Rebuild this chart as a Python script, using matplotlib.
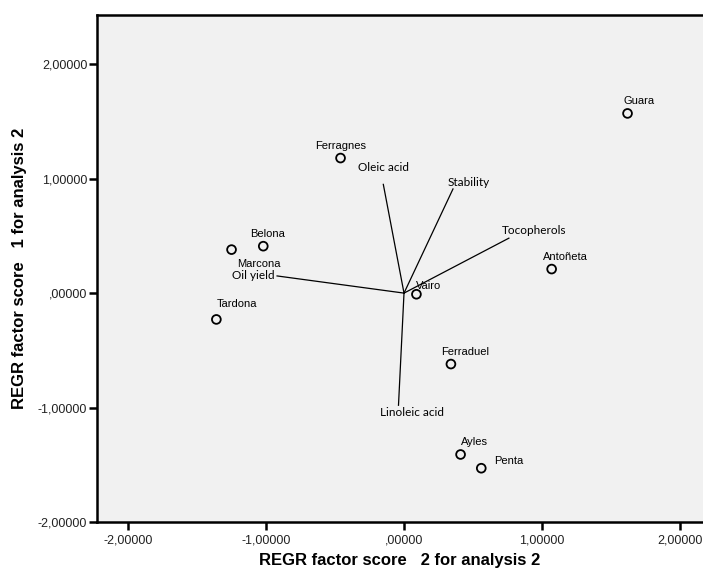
import numpy as np
import matplotlib.pyplot as plt

# cultivar scores (factor 2 on x, factor 1 on y)
cultivars = ['Guara', 'Ferragnes', 'Belona', 'Marcona', 'Tardona', 'Vairo',
             'Antoñeta', 'Ferraduel', 'Ayles', 'Penta']
score2 = [1.62, -0.46, -1.02, -1.25, -1.36, 0.09, 1.07, 0.34, 0.41, 0.56]
score1 = [1.57, 1.18, 0.41, 0.38, -0.23, -0.01, 0.21, -0.62, -1.41, -1.53]
# label offsets in points (dx, dy, ha)
lab_off = [(-3, 9, 'left'), (0, 9, 'center'), (3, 9, 'center'), (20, -10, 'center'),
           (15, 11, 'center'), (0, 6, 'left'), (10, 9, 'center'), (10, 9, 'center'),
           (10, 9, 'center'), (9, 5, 'left')]

# variable loadings
variables = ['Oil yield', 'Oleic acid', 'Stability', 'Tocopherols', 'Linoleic acid']
load2 = [-0.92, -0.15, 0.355, 0.76, -0.04]
load1 = [0.15, 0.95, 0.91, 0.48, -0.98]
var_lab = [(-1.09, 0.15), (-0.15, 1.1), (0.47, 0.97), (0.94, 0.55), (0.06, -1.04)]

fig = plt.figure(figsize=(7.03, 5.72), dpi=100)
ax = fig.add_axes([0.138, 0.0874, 0.862, 0.8864])
ax.set_facecolor('#f1f1f1')

for x, y in zip(load2, load1):
    ax.plot([0, x], [0, y], color='black', lw=0.9)
for name, (tx, ty) in zip(variables, var_lab):
    ax.text(tx, ty, name, fontsize=8.5, family='Lato', ha='center', va='center')

ax.scatter(score2, score1, s=40, facecolors='none', edgecolors='black', linewidths=1.3, zorder=3)
for name, x, y, (dx, dy, ha) in zip(cultivars, score2, score1, lab_off):
    ax.annotate(name, (x, y), xytext=(dx, dy), textcoords='offset points',
                ha=ha, va='center', fontsize=8, family='Liberation Sans')

ax.set_xlim(-2.225, 2.167)
ax.set_ylim(-2.0, 2.43)
ticks = [-2, -1, 0, 1, 2]
ax.set_xticks(ticks)
ax.set_yticks(ticks)
fmt = lambda v: ',00000' if v == 0 else f'{v:.5f}'.replace('.', ',')
ax.set_xticklabels([fmt(v) for v in ticks], family='Liberation Sans', fontsize=9)
ax.set_yticklabels([fmt(v) for v in ticks], family='Liberation Sans', fontsize=9)
ax.tick_params(direction='out', length=6, width=1.8, color='black', labelcolor='#222222')
ax.tick_params(axis='y', pad=1)
ax.tick_params(axis='x', pad=3)
for s in ['left', 'bottom', 'top']:
    ax.spines[s].set_linewidth(1.8)
ax.spines['right'].set_visible(False)

ax.set_xlabel('REGR factor score   2 for analysis 2', fontsize=12, fontweight='bold',
              family='Liberation Sans', labelpad=5)
ax.set_ylabel('REGR factor score   1 for analysis 2', fontsize=12, fontweight='bold',
              family='Liberation Sans', labelpad=8)

fig.savefig('out.png', dpi=100)
